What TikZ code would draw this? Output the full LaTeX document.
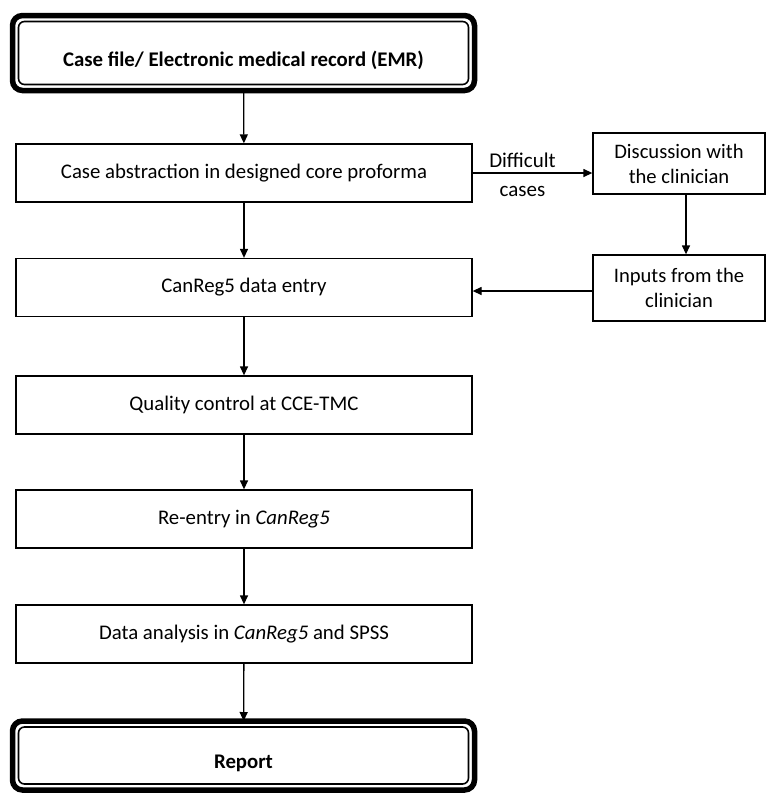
\documentclass[tikz,border=0pt]{standalone}
\usepackage{fontspec}
\setmainfont{Carlito}
\usetikzlibrary{arrows.meta}

\tikzset{
  stepbox/.style={draw, line width=0.65pt, inner sep=0pt,
                  minimum width=228pt, minimum height=29pt,
                  font=\fontsize{10.4}{12.5}\selectfont},
  sidebox/.style={draw, line width=0.65pt, inner sep=0pt, align=center,
                  minimum width=86pt, font=\fontsize{10.3}{12.5}\selectfont},
  endbox/.style={draw, line width=2.75pt, rounded corners=5pt, inner sep=0pt,
                 outer sep=0pt, minimum width=231pt,
                 font=\fontsize{10.4}{12.5}\selectfont\bfseries,
                 text height=13pt, text depth=0pt},
  flow/.style={line width=0.65pt, -{Triangle[length=4.5pt,width=4pt]}}
}

\begin{document}
\begin{tikzpicture}[x=0.5pt,y=-0.5pt]
  \useasboundingbox (0,0) rectangle (766,794);

  % main column
  \node [endbox, minimum height=37.5pt] (emr) at (243.5,53) {Case file/ Electronic medical record (EMR)};
  \node [stepbox] (abstr)   at (244,173)   {Case abstraction in designed core proforma};
  \node [stepbox] (entry)   at (244,287.5) {CanReg5 data entry};
  \node [stepbox] (quality) at (244,405)   {Quality control at CCE-TMC};
  \node [stepbox] (reentry) at (244,519)   {Re-entry in \textit{CanReg5}};
  \node [stepbox] (analys)  at (244,634)   {Data analysis in \textit{CanReg5} and SPSS};
  \node [endbox, minimum height=34.5pt] (report) at (243.5,755.5) {Report};

  % side column
  \node [sidebox, minimum height=30.5pt] (discuss) at (679,163.5) {Discussion with\\the clinician};
  \node [sidebox, minimum height=33pt]   (inputs)  at (679,288)   {Inputs from the\\clinician};

  % inner line of the end boxes
  \foreach \n in {emr,report}
    \draw [line width=0.8pt, rounded corners=3pt]
      ([shift={(3pt,-3pt)}]\n.north west) rectangle ([shift={(-3pt,3pt)}]\n.south east);

  \begin{scope}[every node/.style={midway,align=center,font=\fontsize{10.5}{14.5}\selectfont}]
    \draw [flow] (emr)     -- (abstr);
    \draw [flow] (abstr)   -- (entry);
    \draw [flow] (entry)   -- (quality);
    \draw [flow] (quality) -- (reentry);
    \draw [flow] (reentry) -- (analys);
    \draw [flow] (analys)  -- (report);
    \draw [flow] (abstr) -- node [xshift=-5pt,yshift=-1pt] {Difficult\\cases} (abstr -| discuss.west);
    \draw [flow] ([xshift=3.5pt]discuss.south) -- ([xshift=3.5pt]inputs.north);
    \draw [flow] ([yshift=-1.5pt]inputs.west) -- ([yshift=-1.5pt]inputs.west -| entry.east);
  \end{scope}
\end{tikzpicture}
\end{document}
